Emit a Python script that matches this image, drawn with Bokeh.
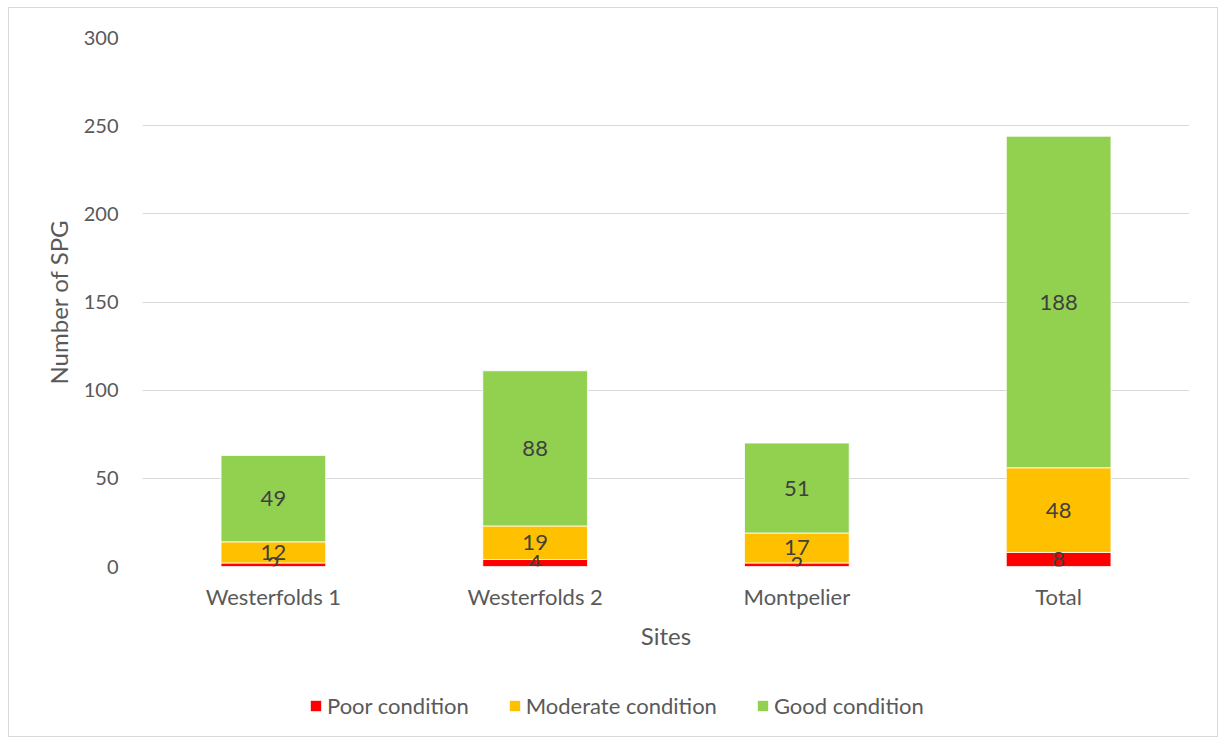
from bokeh.plotting import figure
from bokeh.layouts import column
from bokeh.models import ColumnDataSource, Legend, LegendItem, FactorRange, Range1d
from bokeh.embed import file_html
from bokeh.resources import INLINE
from bokeh.core.properties import value

# Site counts of SPG by condition class
sites = ["Westerfolds 1", "Westerfolds 2", "Montpelier", "Total"]
poor = [2, 4, 2, 8]
moderate = [12, 19, 17, 48]
good = [49, 88, 51, 188]

series_names = ["Poor condition", "Moderate condition", "Good condition"]
y_ticks = [0, 50, 100, 150, 200, 250, 300]

FONT = "Lato"
TEXT = "#595959"
LABEL = "#404040"
GRID = "#d9d9d9"
COLORS = ["#FF0000", "#FFC000", "#92D050"]

# stacked extents for each segment
poor_top = list(poor)
mod_bottom = poor_top
mod_top = [a + b for a, b in zip(poor, moderate)]
good_bottom = mod_top
good_top = [a + b for a, b in zip(mod_top, good)]

src = ColumnDataSource(dict(
    site=sites,
    poor_bottom=[0] * len(sites), poor_top=poor_top,
    mod_bottom=mod_bottom, mod_top=mod_top,
    good_bottom=good_bottom, good_top=good_top,
    poor_mid=[v / 2 for v in poor],
    mod_mid=[b + m / 2 for b, m in zip(mod_bottom, moderate)],
    good_mid=[b + g / 2 for b, g in zip(good_bottom, good)],
    poor_txt=[str(v) for v in poor],
    mod_txt=[str(v) for v in moderate],
    good_txt=[str(v) for v in good],
))

segments = [("poor_bottom", "poor_top"), ("mod_bottom", "mod_top"), ("good_bottom", "good_top")]

p = figure(
    x_range=FactorRange(*sites, range_padding=0),
    y_range=Range1d(0, 300),
    frame_width=1047, frame_height=529,
    output_backend="svg", toolbar_location=None,
    min_border_left=133, min_border_right=28,
    min_border_top=29, min_border_bottom=100,
)
p.outline_line_color = None
p.background_fill_color = "white"
p.border_fill_color = "white"

bar_kw = dict(x="site", width=0.4, source=src, line_color="white", line_width=0.8)
for (b, t), color in zip(segments, COLORS):
    p.vbar(bottom=b, top=t, fill_color=color, **bar_kw)

txt_kw = dict(x="site", source=src, text_align="center", text_baseline="middle",
              text_font=value(FONT), text_font_size="22px", text_color=LABEL)
p.text(y="poor_mid", text="poor_txt", **txt_kw)
p.text(y="mod_mid", text="mod_txt", **txt_kw)
p.text(y="good_mid", text="good_txt", **txt_kw)

# axes
p.yaxis.ticker = y_ticks
p.yaxis.axis_label = "Number of SPG"
p.xaxis.axis_label = "Sites"
for ax in (p.xaxis, p.yaxis):
    ax.axis_line_color = None
    ax.major_tick_line_color = None
    ax.minor_tick_line_color = None
    ax.major_tick_out = 0
    ax.major_tick_in = 0
    ax.minor_tick_out = 0
    ax.major_label_text_font = FONT
    ax.major_label_text_color = TEXT
    ax.axis_label_text_font = FONT
    ax.axis_label_text_font_size = "24px"
    ax.axis_label_text_font_style = "normal"
    ax.axis_label_text_color = TEXT
p.xaxis.major_label_text_font_size = "22px"
p.yaxis.major_label_text_font_size = "20px"
p.yaxis.major_label_standoff = 24
p.yaxis.axis_label_standoff = 8
p.xaxis.major_label_standoff = 16
p.xaxis.axis_label_standoff = 8

p.xgrid.grid_line_color = None
p.ygrid.grid_line_color = GRID
p.ygrid.grid_line_width = 1.2

# legend strip under the chart; its series renderers share the bar data but
# the y window sits far above the data, so only the legend swatches show
leg = figure(
    width=1208, height=70,
    x_range=FactorRange(*sites, range_padding=0), y_range=Range1d(1000, 1001),
    output_backend="svg", toolbar_location=None,
    min_border_left=0, min_border_right=0, min_border_top=0, min_border_bottom=0,
)
leg.axis.visible = False
leg.grid.visible = False
leg.outline_line_color = None
leg.border_fill_color = "white"

items = []
for name, (b, t), color in zip(series_names, segments, COLORS):
    r = leg.vbar(x="site", bottom=b, top=t, width=0.4, source=src,
                 fill_color=color, line_color=None)
    items.append(LegendItem(label=name, renderers=[r]))

legend = Legend(
    items=items,
    orientation="horizontal", location=(167, 17),
    glyph_width=13, glyph_height=13, label_standoff=5, spacing=39,
    label_text_font=FONT, label_text_font_size="22px", label_text_color=TEXT,
    border_line_color=None, background_fill_alpha=0, margin=0, padding=0,
)
leg.add_layout(legend, "center")

layout = column(p, leg, spacing=0)
layout.styles = {"border": "1px solid #d9d9d9"}
layout.margin = (7, 0, 0, 8)

open("out.html", "w").write(file_html(layout, INLINE))
